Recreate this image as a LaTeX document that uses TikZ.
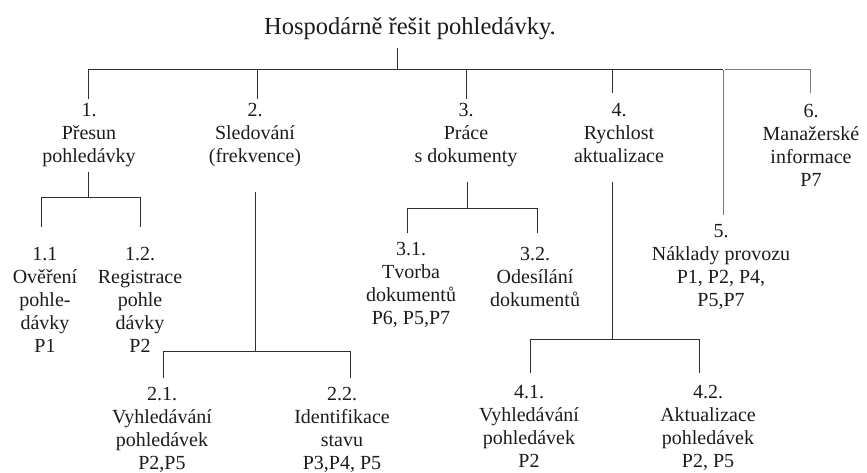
\documentclass[tikz,border=0pt]{standalone}
\usepackage{fontspec}
\setmainfont{Liberation Serif}
\definecolor{txt}{HTML}{1C1C1C}
\definecolor{ln}{HTML}{2E2E2E}
\definecolor{lngray}{HTML}{7C7C7C}
\begin{document}
\begin{tikzpicture}[x=1pt,y=-1pt,
  lbl/.style={align=center, inner sep=0pt, anchor=base, text=txt,
    font=\fontsize{20}{23}\selectfont},
  headline/.style={inner sep=0pt, anchor=base, text=txt,
    font=\fontsize{24.5}{28}\selectfont},
  link/.style={draw=ln, line width=1pt},
  linkgray/.style={draw=lngray, line width=1pt}]
\useasboundingbox (0,0) rectangle (867,473);
\clip (0,0) rectangle (867,473);

% goal
\node[headline] (title) at (410,35) {Hospodárně řešit pohledávky.};

% first level (positions give the baseline of the last line)
\node[lbl] (n1) at (89,163) {1.\\Přesun\\pohledávky};
\node[lbl] (n2) at (255,163) {2.\\Sledování\\(frekvence)};
\node[lbl] (n3) at (466,163) {3.\\Práce\\s dokumenty};
\node[lbl] (n4) at (619,163) {4.\\Rychlost\\aktualizace};
\node[lbl] (n5) at (721,306) {5.\\Náklady provozu\\P1, P2, P4,\\P5,P7};
\node[lbl] (n6) at (811,186) {6.\\Manažerské\\informace\\P7};

% second level
\node[lbl] (n11) at (45,352) {1.1\\Ověření\\pohle-\\dávky\\P1};
\node[lbl] (n12) at (140,352) {1.2.\\Registrace\\pohle\\dávky\\P2};
\node[lbl] (n21) at (162,469) {2.1.\\Vyhledávání\\pohledávek\\P2,P5};
\node[lbl] (n22) at (342,469) {2.2.\\Identifikace\\stavu\\P3,P4, P5};
\node[lbl] (n31) at (411,324) {3.1.\\Tvorba\\dokumentů\\P6, P5,P7};
\node[lbl] (n32) at (535,306) {3.2.\\Odesílání\\dokumentů};
\node[lbl] (n41) at (529,467) {4.1.\\Vyhledávání\\pohledávek\\P2};
\node[lbl] (n42) at (708,467) {4.2.\\Aktualizace\\pohledávek\\P2, P5};

% junctions of the main bar
\coordinate (root) at (397,70);
\coordinate (bar1) at (88,70);
\coordinate (bar2) at (257,70);
\coordinate (bar3) at (466,70);
\coordinate (bar4) at (612,70);
\coordinate (bar5) at (723,70);
\coordinate (bar6) at (810,70);
\coordinate (col2) at (255,0);
\coordinate (col3) at (467,0);

% connector end points near the texts
\coordinate (tt)  at ([yshift=-13pt]title.base);
\coordinate (e1)  at ([yshift=64pt]n1.base);
\coordinate (e2)  at ([yshift=64pt]n2.base);
\coordinate (e3)  at ([yshift=64pt]n3.base);
\coordinate (e4)  at ([yshift=70pt]n4.base);
\coordinate (e5)  at ([yshift=91pt]n5.base);
\coordinate (e6)  at ([yshift=93pt]n6.base);
\coordinate (f1)  at ([yshift=-9pt]n1.base);
\coordinate (f2)  at ([yshift=-29pt]n2.base);
\coordinate (f3)  at ([yshift=-19pt]n3.base);
\coordinate (f4)  at ([yshift=-19pt]n4.base);
\coordinate (e11) at ([yshift=125pt]n11.base);
\coordinate (e12) at ([yshift=125pt]n12.base);
\coordinate (e21) at ([yshift=91pt]n21.base);
\coordinate (e22) at ([yshift=91pt]n22.base);
\coordinate (e31) at ([yshift=91pt]n31.base);
\coordinate (e32) at ([yshift=73pt]n32.base);
\coordinate (e41) at ([yshift=94pt]n41.base);
\coordinate (e42) at ([yshift=94pt]n42.base);

% sub-bars
\coordinate (sb1l) at (41,198);  \coordinate (sb1r) at (140,198);
\coordinate (sb2l) at (163,351); \coordinate (sb2r) at (350,351);
\coordinate (sb3l) at (407,209); \coordinate (sb3r) at (537,209);
\coordinate (sb4l) at (530,339); \coordinate (sb4r) at (699,339);

% main tree
\draw[link] (root |- tt) -- (root);
\draw[link] (bar1 |- e1) -- (bar1) -- (bar5);
\draw[link] (bar2) -- (bar2 |- e2);
\draw[link] (bar3) -- (bar3 |- e3);
\draw[link] (bar4) -- (bar4 |- e4);
\draw[linkgray] (bar5) -- (bar5 |- e5);
\draw[linkgray] ([xshift=2pt]bar5) -- (bar6) -- (bar6 |- e6);

% branch 1
\draw[link] (bar1 |- f1) -- (bar1 |- sb1l);
\draw[link] (sb1l |- e11) -- (sb1l) -- (sb1r) -- (sb1r |- e12);
% branch 2
\draw[link] (col2 |- f2) -- (col2 |- sb2l);
\draw[link] (sb2l |- e21) -- (sb2l) -- (sb2r) -- (sb2r |- e22);
% branch 3
\draw[link] (col3 |- f3) -- (col3 |- sb3l);
\draw[link] (sb3l |- e31) -- (sb3l) -- (sb3r) -- (sb3r |- e32);
% branch 4
\draw[link] (bar4 |- f4) -- (bar4 |- sb4l);
\draw[link] (sb4l |- e41) -- (sb4l) -- (sb4r) -- (sb4r |- e42);
\end{tikzpicture}
\end{document}
